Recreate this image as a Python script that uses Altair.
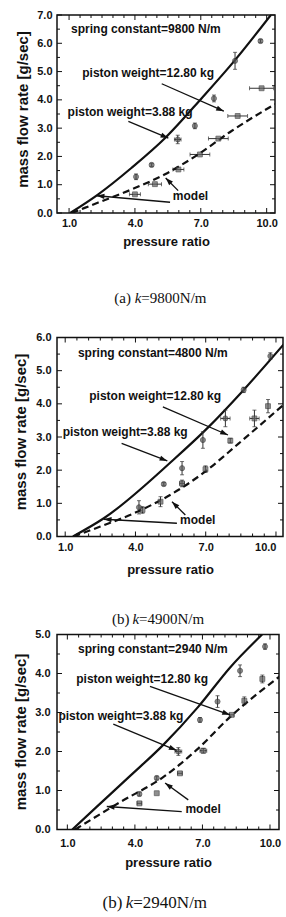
import math
import altair as alt
import pandas as pd

SANS = "Liberation Sans"
SERIF = "Liberation Serif"
INK = "#111111"

# ---------------- panel (a): spring constant 9800 N/m ----------------
a_solid_x = [1.05, 2.33, 3.85, 5.40, 7.04, 8.52, 10.19]
a_solid_y = [0.00, 0.66, 1.60, 2.67, 4.06, 5.37, 7.00]
a_dash_x = [1.12, 2.33, 3.90, 5.37, 6.90, 8.40, 10.38]
a_dash_y = [0.00, 0.37, 0.85, 1.37, 2.08, 2.90, 3.85]
a_hi_x = [4.05, 4.76, 5.95, 6.73, 7.60, 8.56, 9.72]
a_hi_y = [1.28, 1.70, 2.60, 3.08, 4.05, 5.38, 6.08]
a_hi_yerr = [0.10, 0.06, 0.15, 0.10, 0.12, 0.30, 0.06]
a_hi_xerr = [0.00, 0.00, 0.15, 0.00, 0.00, 0.00, 0.00]
a_lo_x = [4.00, 4.91, 5.98, 6.96, 7.80, 8.68, 9.77]
a_lo_y = [0.66, 1.02, 1.54, 2.07, 2.63, 3.43, 4.41]
a_lo_yerr = [0.00, 0.00, 0.00, 0.00, 0.00, 0.00, 0.00]
a_lo_xerr = [0.25, 0.30, 0.25, 0.45, 0.45, 0.45, 0.55]
a_note_text = ["spring constant=9800 N/m", "piston weight=12.80 kg",
               "piston weight=3.88 kg", "model"]
a_note_x = [4.50, 4.60, 3.78, 6.53]
a_note_y = [6.50, 4.95, 3.57, 0.59]
a_arrow_x1 = [5.22, 3.70, 5.60, 5.97]
a_arrow_y1 = [4.57, 3.24, 0.38, 0.79]
a_arrow_x2 = [8.05, 5.52, 2.26, 5.40]
a_arrow_y2 = [3.60, 2.65, 0.61, 1.24]
a_caption = ["(a)", "k", "=9800N/m"]

# ---------------- panel (b): spring constant 4800 N/m ----------------
b_solid_x = [1.33, 2.65, 5.60, 7.06, 8.62, 10.40]
b_solid_y = [0.00, 0.55, 2.30, 3.26, 4.42, 5.85]
b_dash_x = [1.35, 2.50, 4.00, 5.40, 7.00, 8.40, 10.40]
b_dash_y = [0.00, 0.30, 0.72, 1.22, 1.97, 2.80, 4.02]
b_hi_x = [4.15, 5.21, 5.99, 6.88, 7.84, 8.62, 9.76]
b_hi_y = [0.88, 1.58, 2.06, 2.91, 3.56, 4.42, 5.44]
b_hi_yerr = [0.20, 0.05, 0.20, 0.25, 0.25, 0.08, 0.10]
b_hi_xerr = [0.00, 0.00, 0.00, 0.00, 0.20, 0.00, 0.00]
b_lo_x = [4.30, 5.07, 5.99, 6.99, 8.05, 9.08, 9.66]
b_lo_y = [0.80, 1.05, 1.60, 2.03, 2.89, 3.56, 3.93]
b_lo_yerr = [0.10, 0.15, 0.10, 0.10, 0.07, 0.25, 0.20]
b_lo_xerr = [0.00, 0.00, 0.10, 0.00, 0.00, 0.20, 0.00]
b_note_text = ["spring constant=4800 N/m", "piston weight=12.80 kg",
               "piston weight=3.88 kg", "model"]
b_note_x = [4.74, 4.84, 3.56, 6.66]
b_note_y = [5.54, 4.25, 3.16, 0.50]
b_arrow_x1 = [5.17, 3.41, 5.77, 6.13]
b_arrow_y1 = [3.91, 2.81, 0.40, 0.65]
b_arrow_x2 = [7.95, 5.36, 2.65, 5.56]
b_arrow_y2 = [3.06, 2.28, 0.52, 1.05]
b_caption = ["(b)", "k", "=4900N/m"]

# ---------------- panel (c): spring constant 2940 N/m ----------------
c_solid_x = [1.22, 2.30, 3.80, 5.26, 6.82, 8.22, 9.65]
c_solid_y = [0.00, 0.58, 1.38, 2.17, 3.15, 4.15, 5.00]
c_dash_x = [1.34, 3.34, 5.30, 6.74, 8.22, 10.49]
c_dash_y = [0.00, 0.70, 1.36, 2.04, 2.88, 3.95]
c_hi_x = [4.20, 4.97, 5.93, 6.89, 7.67, 8.67, 9.78]
c_hi_y = [0.91, 1.32, 2.00, 2.81, 3.28, 4.07, 4.69]
c_hi_yerr = [0.05, 0.05, 0.10, 0.06, 0.15, 0.15, 0.07]
c_hi_xerr = [0.00, 0.00, 0.15, 0.00, 0.00, 0.00, 0.00]
c_lo_x = [4.20, 4.97, 6.00, 7.04, 8.30, 8.86, 9.66]
c_lo_y = [0.67, 0.93, 1.44, 2.02, 2.94, 3.30, 3.86]
c_lo_yerr = [0.00, 0.00, 0.00, 0.06, 0.00, 0.10, 0.10]
c_lo_xerr = [0.10, 0.00, 0.10, 0.15, 0.10, 0.00, 0.00]
c_note_text = ["spring constant=2940 N/m", "piston weight=12.80 kg",
               "piston weight=3.88 kg", "model"]
c_note_x = [4.80, 4.32, 3.38, 7.03]
c_note_y = [4.63, 3.86, 2.91, 0.53]
c_arrow_x1 = [4.67, 3.04, 6.08, 6.37]
c_arrow_y1 = [3.67, 2.70, 0.46, 0.76]
c_arrow_x2 = [8.22, 5.85, 2.75, 5.34]
c_arrow_y2 = [2.94, 2.03, 0.59, 1.19]
c_caption = ["(b)", "k", "=2940N/m"]

X_LABELS = [1, 4, 7, 10]
ARROW_HEAD = "M0,0L-0.75,2.2L0.75,2.2Z"


def steps(lo, hi, step):
    out, v = [], lo
    while v <= hi + 1e-9:
        out.append(round(v, 3))
        v += step
    return out


def frame_ticks(values, channel, xs, ys, W, H, length):
    """Inward-pointing tick marks on both edges that belong to one channel."""
    df = pd.DataFrame({"v": values})
    base = alt.Chart(df).mark_rule(color=INK, strokeWidth=1)
    if channel == "x":
        pos = alt.X("v:Q", scale=xs, axis=None)
        return [
            base.encode(x=pos, y=alt.value(H), y2=alt.value(H - length)),
            base.encode(x=pos, y=alt.value(0), y2=alt.value(length)),
        ]
    pos = alt.Y("v:Q", scale=ys, axis=None)
    return [
        base.encode(y=pos, x=alt.value(0), x2=alt.value(length)),
        base.encode(y=pos, x=alt.value(W), x2=alt.value(W - length)),
    ]


def panel(p):
    W, H, xdom, ymax = p["W"], p["H"], p["xdom"], p["ymax"]
    xs = alt.Scale(domain=xdom, nice=False, zero=False)
    ys = alt.Scale(domain=[0, ymax], nice=False, zero=False)

    x_minor = [v for v in steps(1, 10, 0.5) if v not in X_LABELS and v <= xdom[1]]
    x_major = [v for v in X_LABELS if v <= xdom[1]]
    y_major = steps(0, ymax, 1)
    y_minor = steps(0.5, ymax, 1)

    if p.get("last_label_right"):
        # the last label sits close to the right edge: keep it inside the figure
        x_align = alt.condition("datum.value == 10", alt.value("right"), alt.value("center"))
    else:
        x_align = "center"

    lab_x = alt.Axis(orient="bottom", values=X_LABELS, format=".1f", ticks=False,
                     domain=False, grid=False, labelFont=SANS, labelFontWeight="bold",
                     labelFontSize=11, labelColor=INK, labelPadding=p["xpad"],
                     labelFlush=False, labelAlign=x_align, title="pressure ratio",
                     titleFont=SANS, titleFontWeight="bold", titleFontSize=13,
                     titleColor=INK, titleY=p["xtitle"], titleBaseline="middle")
    lab_y = alt.Axis(orient="left", values=y_major, format=".1f", ticks=False,
                     domain=False, grid=False, labelFont=SANS, labelFontWeight="bold",
                     labelFontSize=11, labelColor=INK, labelPadding=p["ypad"],
                     title="mass flow rate [g/sec]", titleFont=SANS,
                     titleFontWeight="bold", titleFontSize=15, titleColor=INK,
                     titleAngle=270, titleX=p["ytitle_x"], titleY=p["ytitle_y"],
                     titleBaseline="middle", titleAlign="center")

    solid = pd.DataFrame({"x": p["solid_x"], "y": p["solid_y"]})
    dash = pd.DataFrame({"x": p["dash_x"], "y": p["dash_y"]})
    hi = pd.DataFrame({"x": p["hi_x"], "y": p["hi_y"],
                       "xerr": p["hi_xerr"], "yerr": p["hi_yerr"]})
    lo = pd.DataFrame({"x": p["lo_x"], "y": p["lo_y"],
                       "xerr": p["lo_xerr"], "yerr": p["lo_yerr"]})
    pts = pd.concat([hi, lo], ignore_index=True)
    pts["ylo"] = pts["y"] - pts["yerr"]
    pts["yhi"] = pts["y"] + pts["yerr"]
    pts["xlo"] = pts["x"] - pts["xerr"]
    pts["xhi"] = pts["x"] + pts["xerr"]
    vbars = pts[pts["yerr"] > 0]
    hbars = pts[pts["xerr"] > 0]

    kx = W / (xdom[1] - xdom[0])
    ky = H / ymax
    arrows = pd.DataFrame({"x1": p["ax1"], "y1": p["ay1"], "x2": p["ax2"], "y2": p["ay2"]})
    arrows["angle"] = [
        math.degrees(math.atan2((r.x2 - r.x1) * kx, (r.y2 - r.y1) * ky)) % 360
        for r in arrows.itertuples()
    ]
    notes = pd.DataFrame({"x": p["note_x"], "y": p["note_y"], "t": p["note_text"]})

    X = lambda f: alt.X(f, scale=xs, axis=None)
    Y = lambda f: alt.Y(f, scale=ys, axis=None)

    line_solid = alt.Chart(solid).mark_line(
        color=INK, strokeWidth=2.2, clip=True, interpolate="monotone"
    ).encode(x=alt.X("x:Q", scale=xs, axis=lab_x), y=alt.Y("y:Q", scale=ys, axis=lab_y))

    line_dash = alt.Chart(dash).mark_line(
        color=INK, strokeWidth=2.2, strokeDash=[7, 4], clip=True, interpolate="monotone"
    ).encode(x=X("x:Q"), y=Y("y:Q"))

    dots_hi = alt.Chart(hi).mark_point(
        shape="circle", filled=True, size=26, color="#555555", stroke="#222", strokeWidth=0.8
    ).encode(x=X("x:Q"), y=Y("y:Q"))

    dots_lo = alt.Chart(lo).mark_point(
        shape="square", filled=True, size=24, color="#606060", stroke="#222", strokeWidth=0.8
    ).encode(x=X("x:Q"), y=Y("y:Q"))

    shafts = alt.Chart(arrows).mark_rule(color=INK, strokeWidth=1.3).encode(
        x=X("x1:Q"), y=Y("y1:Q"), x2="x2:Q", y2="y2:Q")

    heads = alt.Chart(arrows).mark_point(
        shape=ARROW_HEAD, size=49, filled=True, color=INK, opacity=1
    ).encode(x=X("x2:Q"), y=Y("y2:Q"), angle=alt.Angle("angle:Q", scale=None))

    err_v = alt.Chart(vbars).mark_errorbar(
        color="#333", thickness=1, ticks={"size": 4, "thickness": 1}
    ).encode(x=X("x:Q"), y=Y("ylo:Q"), y2="yhi:Q")

    err_h = alt.Chart(hbars).mark_errorbar(
        color="#333", thickness=1, ticks={"size": 4, "thickness": 1}
    ).encode(y=Y("y:Q"), x=X("xlo:Q"), x2="xhi:Q")

    labels = alt.Chart(notes).mark_text(
        font=SANS, fontWeight="bold", fontSize=12, color=INK, align="center", baseline="middle"
    ).encode(x=X("x:Q"), y=Y("y:Q"), text="t:N")

    ticks = (frame_ticks(x_major, "x", xs, ys, W, H, 5)
             + frame_ticks(x_minor, "x", xs, ys, W, H, 3)
             + frame_ticks(y_major, "y", xs, ys, W, H, 5)
             + frame_ticks(y_minor, "y", xs, ys, W, H, 3))

    # caption below the panel: "(x) k=....N/m" with an italic k
    fs = p["cap_fs"]
    left, cy = p["cap_left"], p["cap_y"]
    offsets = [0.0, 1.36 * fs, (1.36 + 0.444) * fs]
    styles = ["normal", "italic", "normal"]
    caption = [
        alt.Chart(pd.DataFrame({"t": [piece]})).mark_text(
            font=SERIF, fontSize=fs, fontStyle=style, color=INK, align="left",
            baseline="middle"
        ).encode(text="t:N", x=alt.value(left + off), y=alt.value(cy))
        for piece, off, style in zip(p["caption"], offsets, styles)
    ]

    return alt.layer(
        line_solid, *ticks, err_v, err_h, line_dash, dots_lo, dots_hi,
        shafts, heads, labels, *caption
    ).resolve_axis(x="independent", y="independent").properties(width=W, height=H)


pa = panel(dict(W=218, H=198, xdom=[0.45, 10.38], ymax=7,
                solid_x=a_solid_x, solid_y=a_solid_y, dash_x=a_dash_x, dash_y=a_dash_y,
                hi_x=a_hi_x, hi_y=a_hi_y, hi_xerr=a_hi_xerr, hi_yerr=a_hi_yerr,
                lo_x=a_lo_x, lo_y=a_lo_y, lo_xerr=a_lo_xerr, lo_yerr=a_lo_yerr,
                note_text=a_note_text, note_x=a_note_x, note_y=a_note_y,
                ax1=a_arrow_x1, ay1=a_arrow_y1, ax2=a_arrow_x2, ay2=a_arrow_y2,
                caption=a_caption, cap_fs=15, cap_left=57.3, cap_y=282.5,
                xpad=4, ypad=5, xtitle=28, ytitle_x=-35, ytitle_y=94))

pb = panel(dict(W=226, H=199, xdom=[0.65, 10.3], ymax=6, last_label_right=True,
                solid_x=b_solid_x, solid_y=b_solid_y, dash_x=b_dash_x, dash_y=b_dash_y,
                hi_x=b_hi_x, hi_y=b_hi_y, hi_xerr=b_hi_xerr, hi_yerr=b_hi_yerr,
                lo_x=b_lo_x, lo_y=b_lo_y, lo_xerr=b_lo_xerr, lo_yerr=b_lo_yerr,
                note_text=b_note_text, note_x=b_note_x, note_y=b_note_y,
                ax1=b_arrow_x1, ay1=b_arrow_y1, ax2=b_arrow_x2, ay2=b_arrow_y2,
                caption=b_caption, cap_fs=15, cap_left=55, cap_y=281,
                xpad=5, ypad=6, xtitle=33, ytitle_x=-37, ytitle_y=94))

pc = panel(dict(W=222, H=195, xdom=[0.54, 10.4], ymax=5,
                solid_x=c_solid_x, solid_y=c_solid_y, dash_x=c_dash_x, dash_y=c_dash_y,
                hi_x=c_hi_x, hi_y=c_hi_y, hi_xerr=c_hi_xerr, hi_yerr=c_hi_yerr,
                lo_x=c_lo_x, lo_y=c_lo_y, lo_xerr=c_lo_xerr, lo_yerr=c_lo_yerr,
                note_text=c_note_text, note_x=c_note_x, note_y=c_note_y,
                ax1=c_arrow_x1, ay1=c_arrow_y1, ax2=c_arrow_x2, ay2=c_arrow_y2,
                caption=c_caption, cap_fs=17, cap_left=45.6, cap_y=268.5,
                xpad=8, ypad=7, xtitle=33, ytitle_x=-36.7, ytitle_y=97))

chart = alt.vconcat(
    pa, alt.vconcat(pb, pc, spacing=0), spacing=23.5
).properties(
    padding={"left": 12, "top": 8, "right": 0, "bottom": 0},
    background="white",
).configure_view(stroke=INK, strokeWidth=1.5)

chart.save("out.html", embed_options={"renderer": "svg", "actions": False})
